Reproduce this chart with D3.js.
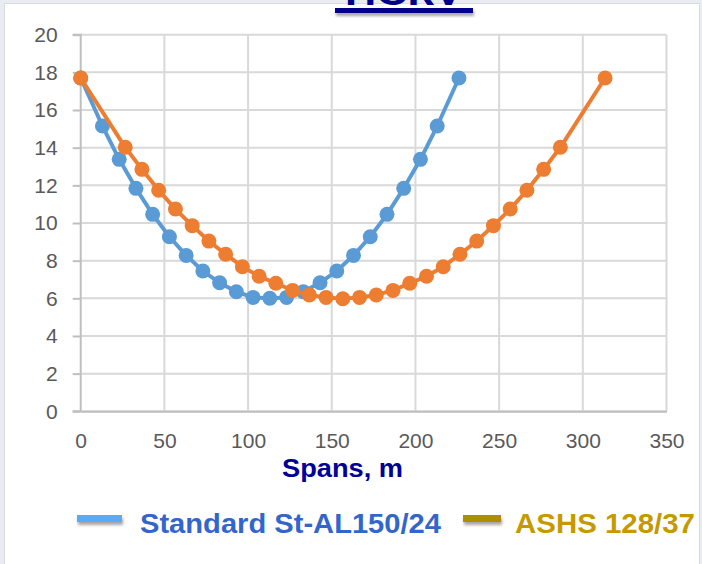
<!DOCTYPE html>
<html><head><meta charset="utf-8">
<script src="https://cdn.jsdelivr.net/npm/d3@7"></script>
<style>html,body{margin:0;padding:0;background:#e9ecf1;}svg{display:block;}</style>
</head><body>
<script>
const blueX = [0,13,23,33,43,53,63,73,83,93,103,113,123,133,143,153,163,173,183,193,203,213,226];
const blueY = [17.7,15.15,13.38,11.84,10.46,9.27,8.28,7.45,6.83,6.35,6.05,6.0,6.05,6.35,6.83,7.45,8.28,9.27,10.46,11.84,13.38,15.15,17.7];
const orangeX = [0,26.6,36.6,46.6,56.6,66.6,76.6,86.6,96.6,106.6,116.6,126.6,136.6,146.6,156.6,166.6,176.6,186.6,196.6,206.6,216.6,226.6,236.6,246.6,256.6,266.6,276.6,286.6,313.3];
const orangeY = [17.7,14.02,12.85,11.74,10.74,9.86,9.04,8.34,7.68,7.17,6.8,6.42,6.18,6.05,5.98,6.05,6.18,6.42,6.8,7.17,7.68,8.34,9.04,9.86,10.74,11.74,12.85,14.02,17.7];
const xTicks = [0,50,100,150,200,250,300,350];
const yTicks = [0,2,4,6,8,10,12,14,16,18,20];
const seriesNames = ["Standard St-AL150/24","ASHS 128/37"];
const titleText = "ПСКV";
const xLabel = "Spans, m";

const W=702,H=564;
const svg=d3.select("body").append("svg").attr("width",W).attr("height",H);
const defs=svg.append("defs");
const f=defs.append("filter").attr("id","sh").attr("x","-20%").attr("y","-50%").attr("width","150%").attr("height","250%");
f.append("feDropShadow").attr("dx",1).attr("dy",3).attr("stdDeviation",1.6).attr("flood-color","#000").attr("flood-opacity",0.35);

svg.append("rect").attr("x",0).attr("y",0).attr("width",W).attr("height",H).attr("fill","#e9ecf1");
svg.append("rect").attr("x",4.5).attr("y",3.5).attr("width",695).attr("height",580).attr("fill","#fff").attr("stroke","#d8dbe0").attr("stroke-width",1);

// title (cut off at top, as in the reference)
svg.append("text").attr("x",404).attr("y",5).attr("text-anchor","middle")
  .attr("font-family","Liberation Sans, Arial, sans-serif").attr("font-weight","bold").attr("font-size",36)
  .attr("fill","#00008b").attr("textLength",118).attr("lengthAdjust","spacingAndGlyphs").text(titleText);
svg.append("rect").attr("x",335).attr("y",8).attr("width",138).attr("height",5).attr("fill","#00008b").attr("filter","url(#sh)");

const x=d3.scaleLinear().domain([0,350]).range([80.7,666.5]);
const y=d3.scaleLinear().domain([0,20]).range([411.3,34.7]);

const g=svg.append("g");
g.selectAll(".hg").data(yTicks).join("line").attr("x1",x(0)).attr("x2",x(350))
  .attr("y1",d=>y(d)).attr("y2",d=>y(d)).attr("stroke","#d9d9d9").attr("stroke-width",2);
g.selectAll(".vg").data(xTicks.slice(1)).join("line").attr("y1",y(0)).attr("y2",y(20))
  .attr("x1",d=>x(d)).attr("x2",d=>x(d)).attr("stroke","#d9d9d9").attr("stroke-width",2);

const ya=svg.append("g").attr("transform",`translate(${x(0)},0)`)
  .call(d3.axisLeft(y).tickValues(yTicks).tickSize(8).tickPadding(15).tickFormat(d3.format("d")));
ya.select(".domain").attr("stroke","#bfbfbf").attr("stroke-width",2).attr("d",`M-8,${y(20)}H0V${y(0)}H-8`);
ya.selectAll(".tick line").attr("stroke","#bfbfbf").attr("stroke-width",2);
ya.selectAll(".tick text").attr("fill","#595959").attr("font-size",21).attr("font-family","Liberation Sans, Arial, sans-serif");

const xa=svg.append("g").attr("transform",`translate(0,${y(0)})`)
  .call(d3.axisBottom(x).tickValues(xTicks).tickSize(0).tickPadding(22).tickFormat(d3.format("d")));
xa.select(".domain").attr("stroke","#bfbfbf").attr("stroke-width",2);
xa.selectAll(".tick text").attr("fill","#595959").attr("font-size",21).attr("font-family","Liberation Sans, Arial, sans-serif");

svg.append("text").attr("x",282).attr("y",477)
  .attr("font-family","Liberation Sans, Arial, sans-serif").attr("font-weight","bold").attr("font-size",26)
  .attr("textLength",121).attr("lengthAdjust","spacingAndGlyphs")
  .attr("fill","#000099").text(xLabel);

const series=[
  {xs:blueX,ys:blueY,color:"#5b9bd5"},
  {xs:orangeX,ys:orangeY,color:"#ed7d31"}
];
const line=d3.line().x(d=>x(d[0])).y(d=>y(d[1]));
series.forEach(s=>{
  const pts=s.xs.map((v,i)=>[v,s.ys[i]]);
  svg.append("path").datum(pts).attr("d",line).attr("fill","none").attr("stroke",s.color).attr("stroke-width",4).attr("stroke-linejoin","round");
  svg.append("g").selectAll("circle").data(pts).join("circle")
    .attr("cx",d=>x(d[0])).attr("cy",d=>y(d[1])).attr("r",7.5).attr("fill",s.color);
});

const leg=[
  {sx:77,sw:45,text:seriesNames[0],tx:140,tw:301,sc:"#5aaaf6",tc:"#3366cc"},
  {sx:463,sw:38,text:seriesNames[1],tx:515,tw:180,sc:"#b08d00",tc:"#c49a00"}
];
leg.forEach(l=>{
  svg.append("rect").attr("x",l.sx).attr("y",515).attr("width",l.sw).attr("height",7).attr("fill",l.sc).attr("filter","url(#sh)");
  svg.append("text").attr("x",l.tx).attr("y",533).attr("font-family","Liberation Sans, Arial, sans-serif")
    .attr("font-weight","bold").attr("font-size",28.5).attr("fill",l.tc)
    .attr("textLength",l.tw).attr("lengthAdjust","spacingAndGlyphs").text(l.text);
});
</script>
</body></html>
